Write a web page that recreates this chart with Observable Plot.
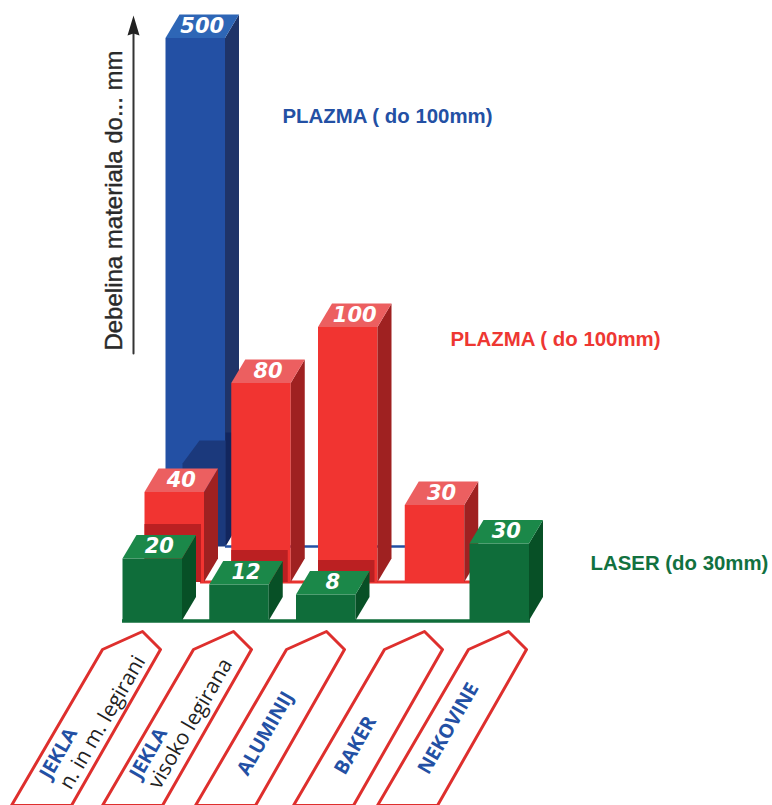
<!DOCTYPE html>
<html><head><meta charset="utf-8">
<script src="https://cdn.jsdelivr.net/npm/d3@7"></script>
<script src="https://cdn.jsdelivr.net/npm/@observablehq/plot@0.6"></script>
<style>html,body{margin:0;background:#fff}svg{display:block}</style>
</head><body><div id="chart"></div>
<script>
// Data
const categories = [
  ["JEKLA", "n. in m. legirani"],
  ["JEKLA", "visoko legirana"],
  ["ALUMINIJ", ""],
  ["BAKER", ""],
  ["NEKOVINE", ""]
];
const laserValues  = [20, 12, 8, null, 30];
const plasmaValues = [40, 80, 100, 30, null];
const bluePlasmaValues = [500, null, null, null, null];
const seriesLabels = ["LASER (do 30mm)", "PLAZMA ( do 100mm)", "PLAZMA ( do 100mm)"];
const axisTitle = "Debelina materiala do... mm";

// Broken pictorial height scale: the original bars are not to a single linear scale
const drawnHeight = d3.scaleLinear()
  .domain([0, 8, 12, 20, 30, 40, 80, 100, 500])
  .range([0, 26, 36, 62, 77, 90, 199, 255, 508]);

// Oblique projection, in chart units (x: categories, y: drawn height)
const PXX = 86.75, ORIGIN_X = 122, ORIGIN_Y = 620;
const ux = px => (px - ORIGIN_X) / PXX;
const uy = py => ORIGIN_Y - py;
const barW = 59.5 / PXX, depthX = 14 / PXX, depthY = 23.5;
const rowX = [0, 22 / PXX, 43 / PXX], rowY = [0, 38.5, 74.5];
const palette = [
  {front: "#0f6d3a", side: "#075026", top: "#1b8849", shade: "#0f6d3a"},
  {front: "#f13431", side: "#9f2121", top: "#ec5f60", shade: "#bb2022"},
  {front: "#2350a4", side: "#1f3468", top: "#2e66b6", shade: "#1b397c"}
];

const polys = [], numbers = [];
let pid = 0;
function poly(points, color) {
  const id = pid++;
  for (const [x, y] of points) polys.push({id, x, y, color});
}
function bar(row, col, value, shadowH) {
  const x0 = col + rowX[row], x1 = x0 + barW, b = rowY[row], t = b + drawnHeight(value);
  const c = palette[row];
  poly([[x0, b], [x1, b], [x1, t], [x0, t]], c.front);
  if (shadowH) poly([[x0, b], [x1 - 3 / PXX, b], [x1 - 3 / PXX, b + shadowH], [x0, b + shadowH]], c.shade);
  poly([[x1, b], [x1 + depthX, b + depthY], [x1 + depthX, t + depthY], [x1, t]], c.side);
  poly([[x0, t], [x1, t], [x1 + depthX, t + depthY], [x0 + depthX, t + depthY]], c.top);
  numbers.push({x: (x0 + x1 + depthX) / 2, y: t + depthY / 2, text: String(value)});
}

// Floor lines
const floors = [
  {x1: ux(225), x2: ux(405), y: rowY[2] - 0.5, color: "#2350a4", w: 2.5},
  {x1: ux(200), x2: ux(472), y: rowY[1], color: "#e8332f", w: 3},
  {x1: ux(122), x2: ux(530), y: rowY[0] - 0.5, color: "#0f6d3a", w: 3.5}
];

// Back row
bluePlasmaValues.forEach((v, c) => { if (v != null) bar(2, c, v); });
poly([[ux(225), uy(546)], [ux(239), uy(522)], [ux(239), uy(432)], [ux(225), uy(432)]], "#12265e");
poly([[ux(182), uy(546)], [ux(225), uy(546)], [ux(225), uy(440)], [ux(199), uy(440)], [ux(182), uy(463)]], palette[2].shade);
const firstCut = polys.length;
plasmaValues.forEach((v, c) => { if (v != null) bar(1, c, v, laserValues[c] != null ? drawnHeight(laserValues[c]) - 4 : 0); });
const secondCut = polys.length;
laserValues.forEach((v, c) => { if (v != null) bar(0, c, v); });

// Label tabs
const tabLeft = [11, 102, 195, 293, 377];
const tabShape = [[0, 805], [91, 649], [131, 631], [149, 649], [60, 805]];
const tabs = [];
tabLeft.forEach((l, i) => {
  for (const [dx, py] of [...tabShape, tabShape[0]]) tabs.push({id: i, x: ux(l + dx), y: uy(py)});
});
const tabTextPos = [[58, 753, 102, 722], [148, 753, 190, 723], [265, 733], [355, 745], [448, 728]];
const tabMain = categories.map((c, i) => ({x: ux(tabTextPos[i][0]), y: uy(tabTextPos[i][1]), text: c[0]}));
const tabSub = categories.map((c, i) => ({c, i})).filter(d => d.c[1])
  .map(d => ({x: ux(tabTextPos[d.i][2]), y: uy(tabTextPos[d.i][3]), text: d.c[1]}));

// Axis arrow
const arrowShaft = [{x: ux(133), y: uy(353)}, {x: ux(133), y: uy(30)}];
const arrowHead = [[127, 35], [133, 15], [139, 35], [133, 33]].map(([x, y]) => ({x: ux(x), y: uy(y)}));

const mk = (a, b) => Plot.line(polys.slice(a, b), {x: "x", y: "y", z: "id", fill: "color", stroke: "none"});
const floor = d => Plot.ruleY([d], {x1: "x1", x2: "x2", y: "y", stroke: "color", strokeWidth: d.w});

const legend = [
  {x: ux(282), y: uy(116), text: seriesLabels[2], color: "#2350a4"},
  {x: ux(450), y: uy(339), text: seriesLabels[1], color: "#ee3732"},
  {x: ux(590), y: uy(563), text: seriesLabels[0], color: "#12713f"}
];

const plot = Plot.plot({
  width: 772, height: 805, margin: 0,
  x: {domain: [0, 5], range: [ORIGIN_X, ORIGIN_X + 5 * PXX], axis: null},
  y: {domain: [0, 600], range: [ORIGIN_Y, ORIGIN_Y - 600], axis: null},
  color: {type: "identity"},
  marks: [
    Plot.line(arrowShaft, {x: "x", y: "y", stroke: "#333", strokeWidth: 2}),
    Plot.line(arrowHead, {x: "x", y: "y", fill: "#222", stroke: "none"}),
    Plot.text([axisTitle], {x: ux(114), y: uy(200), text: d => d, rotate: -90, fontSize: 24, fill: "#2a2a2a", stroke: "#2a2a2a", strokeWidth: 0.4, fontFamily: "'Liberation Sans', Arial, sans-serif"}),
    mk(0, firstCut),
    floor(floors[0]),
    floor(floors[1]),
    mk(firstCut, secondCut),
    floor(floors[2]),
    mk(secondCut, polys.length),
    Plot.text(numbers, {x: "x", y: "y", text: "text", fill: "#fff", fontSize: 21, fontStyle: "italic", fontWeight: 700, fontFamily: "'DejaVu Sans', sans-serif"}),
    Plot.line(tabs, {x: "x", y: "y", z: "id", stroke: "#de2f2d", strokeWidth: 3, strokeLinejoin: "round", fill: "#fff"}),
    Plot.text(tabMain, {x: "x", y: "y", text: "text", rotate: -60, fill: "#2350a4", fontSize: 19.5, fontWeight: 700, fontFamily: "'Open Sans', sans-serif"}),
    Plot.text(tabSub, {x: "x", y: "y", text: "text", rotate: -60, fill: "#222", fontSize: 21, fontFamily: "'Open Sans', sans-serif"}),
    Plot.text(legend, {x: "x", y: "y", text: "text", fill: "color", textAnchor: "start", fontSize: 20.4, fontWeight: 700, fontFamily: "'Liberation Sans', Arial, sans-serif"})
  ]
});
document.getElementById("chart").appendChild(plot);
</script></body></html>
